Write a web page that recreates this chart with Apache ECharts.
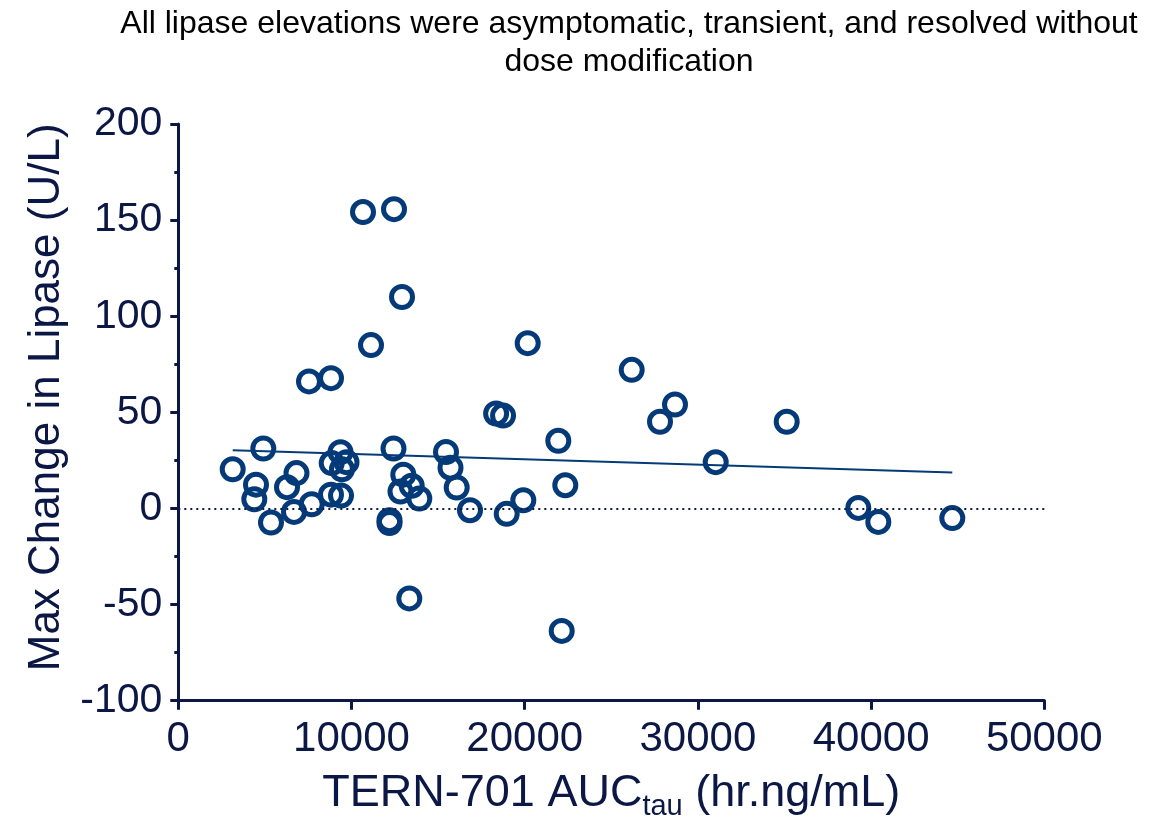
<!DOCTYPE html>
<html>
<head>
<meta charset="utf-8">
<script src="https://cdn.jsdelivr.net/npm/echarts@6/dist/echarts.min.js"></script>
<style>
html,body{margin:0;padding:0;background:#fff;}
#chart{width:1166px;height:820px;}
</style>
</head>
<body>
<div id="chart"></div>
<script>
// TERN-701 AUCtau (hr.ng/mL)
const auc = [3141, 4486, 4388, 4908, 5352, 6276, 6824, 6680, 7702, 7546,
  8816, 8857, 8816, 9394, 9365, 9711, 9451, 10664, 12454, 11126,
  12916, 12425, 12194, 12194, 12991, 12829, 13476, 13915, 13337, 15456,
  15716, 16074, 16842, 18350, 18750, 18961, 19919, 20173, 21940,
  22344, 22136, 26178, 27812, 28678, 31028, 35127, 39261, 40416, 44688];
// Max change in lipase (U/L)
const lipase = [20.4, 12.4, 4.8, 31.2, -7.3, 11.1, 18.4, -1.8, 2.2, 66.1,
  67.8, 23.6, 7.2, 6.7, 29.3, 24.1, 20.4, 154.2, 155.7, 85,
  110, 31.2, -6.1, -7.6, 17.6, 8.8, 11.8, 5.2, -46.8, 29.4,
  21.2, 10.9, -0.9, 49.4, 48.3, -2.8, 4.3, 86, 35.2,
  12.1, -63.7, 72.1, 45.1, 54.1, 24.1, 45.1, 0.3, -7, -5];
// Regression line end points
const trendX = [3141, 44688];
const trendY = [30.3, 18.7];
const xTicks = [0, 10000, 20000, 30000, 40000, 50000];
const yTicks = [-100, -50, 0, 50, 100, 150, 200];

const titleText = 'All lipase elevations were asymptomatic, transient, and resolved without\ndose modification';

const axisColor = '#0b1744';
const markColor = '#043a78';
const font = 'Liberation Sans, Arial, sans-serif';

const chart = echarts.init(document.getElementById('chart'), null, {renderer: 'canvas'});
chart.setOption({
  animation: false,
  backgroundColor: '#fff',
  title: {
    text: titleText,
    left: 624,
    top: 0,
    textAlign: 'center',
    textStyle: {color: '#000', fontSize: 32, fontWeight: 'normal', fontFamily: font, lineHeight: 38}
  },
  grid: {left: 178.3, right: 121.7, top: 124, bottom: 119.3, outerBoundsMode: 'none', containLabel: false},
  xAxis: {
    type: 'value',
    min: xTicks[0], max: xTicks[xTicks.length - 1], interval: 10000,
    name: '{a|TERN-701 AUC}{s|tau}{a| (hr.ng/mL)}',
    nameLocation: 'middle',
    nameGap: 70,
    nameTextStyle: {
      rich: {
        a: {fontSize: 45, color: axisColor, fontFamily: font},
        s: {fontSize: 29, color: axisColor, fontFamily: font, verticalAlign: 'bottom', padding: [0, 0, -6, 0]}
      }
    },
    axisLine: {show: true, onZero: false, lineStyle: {color: axisColor, width: 3}},
    axisTick: {show: true, length: 9, lineStyle: {color: axisColor, width: 3}},
    axisLabel: {fontSize: 42, color: axisColor, fontFamily: font, margin: 18,
      formatter: v => String(v)},
    splitLine: {show: false}
  },
  yAxis: {
    type: 'value',
    min: yTicks[0], max: yTicks[yTicks.length - 1], interval: 50,
    name: 'Max Change in Lipase (U/L)',
    nameLocation: 'middle',
    nameGap: 106,
    nameRotate: 90,
    nameTextStyle: {fontSize: 44, color: axisColor, fontFamily: font, padding: [0, 0, 0, 30]},
    axisLine: {show: true, onZero: false, lineStyle: {color: axisColor, width: 3}},
    axisTick: {show: true, length: 8, lineStyle: {color: axisColor, width: 3}},
    minorTick: {show: true, splitNumber: 2, length: 4, lineStyle: {color: axisColor, width: 3}},
    axisLabel: {fontSize: 41, color: axisColor, fontFamily: font, margin: 16},
    splitLine: {show: false},
    minorSplitLine: {show: false}
  },
  series: [
    {
      type: 'scatter',
      data: auc.map((x, i) => [x, lipase[i]]),
      symbol: 'circle',
      symbolSize: 21,
      itemStyle: {color: 'rgba(255,255,255,0)', borderColor: markColor, borderWidth: 5, opacity: 1},
      markLine: {
        silent: true,
        symbol: 'none',
        label: {show: false},
        lineStyle: {color: '#101a40', type: [2, 4], width: 2},
        data: [{yAxis: 0}]
      },
      z: 2
    },
    {
      type: 'line',
      data: trendX.map((x, i) => [x, trendY[i]]),
      symbol: 'none',
      lineStyle: {color: markColor, width: 2},
      z: 3
    }
  ]
});
</script>
</body>
</html>
